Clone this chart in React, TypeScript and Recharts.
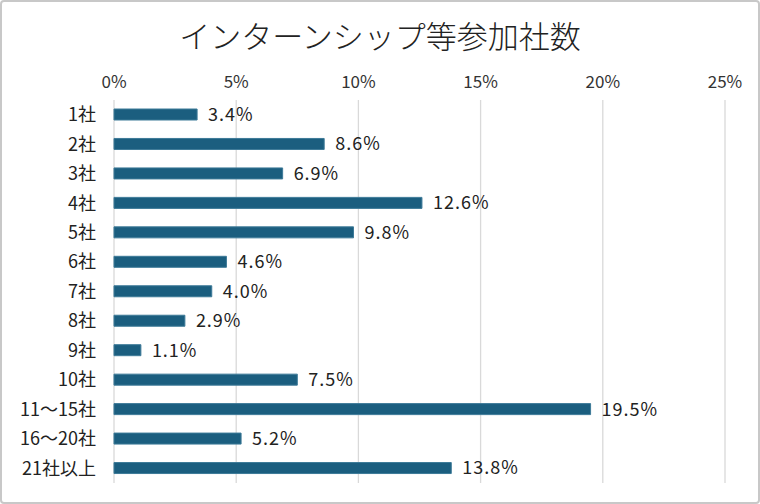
import { Bar, BarChart, CartesianGrid, LabelList, XAxis, YAxis } from 'recharts';

const categories = ['1社', '2社', '3社', '4社', '5社', '6社', '7社', '8社', '9社', '10社', '11～15社', '16～20社', '21社以上'];
const shares = [3.4, 8.6, 6.9, 12.6, 9.8, 4.6, 4.0, 2.9, 1.1, 7.5, 19.5, 5.2, 13.8];
const xTicks = [0, 5, 10, 15, 20, 25];

const font = "'Noto Sans CJK JP', sans-serif";
const barColor = '#1b5e7f';

const rows = categories.map((name, i) => ({ name, value: shares[i] }));

export default function App() {
  return (
    <div
      style={{
        position: 'fixed',
        left: 0,
        top: 0,
        width: 760,
        height: 504,
        boxSizing: 'border-box',
        border: '2px solid #c8c8c8',
        borderRadius: 4,
        background: '#fff',
        fontFamily: font,
      }}
    >
      <div
        style={{
          position: 'absolute',
          left: 0,
          right: 0,
          top: 10,
          textAlign: 'center',
          fontSize: 31,
          color: '#222',
          fontWeight: 300,
          lineHeight: '46px',
        }}
      >
        インターンシップ等参加社数
      </div>
      <div style={{ position: 'absolute', left: -2, top: -2 }}>
        <BarChart
          width={760}
          height={504}
          data={rows}
          layout="vertical"
          margin={{ top: 65, right: 35, bottom: 21, left: 0 }}
          barCategoryGap={0}
        >
          <CartesianGrid horizontal={false} stroke="#d9d9d9" strokeWidth={1.3} />
          <XAxis
            type="number"
            orientation="top"
            domain={[0, 25]}
            ticks={xTicks}
            tickFormatter={(v) => `${v}%`}
            axisLine={false}
            tickLine={false}
            height={35}
            tickMargin={6}
            tick={{ fontSize: 17, fill: '#333', fontFamily: font }}
          />
          <YAxis
            type="category"
            dataKey="name"
            width={114}
            axisLine={false}
            tickLine={false}
            tickMargin={12}
            interval={0}
            tick={{ fontSize: 18, fill: '#222', fontFamily: font }}
          />
          <Bar dataKey="value" fill={barColor} stroke="#3d7a98" strokeWidth={1} barSize={11} isAnimationActive={false}>
            <LabelList
              dataKey="value"
              position="right"
              offset={11}
              formatter={(v: number) => `${Number(v).toFixed(1)}%`}
              style={{ fontSize: 18, fill: '#222', fontFamily: font, letterSpacing: 1 }}
            />
          </Bar>
        </BarChart>
      </div>
    </div>
  );
}
